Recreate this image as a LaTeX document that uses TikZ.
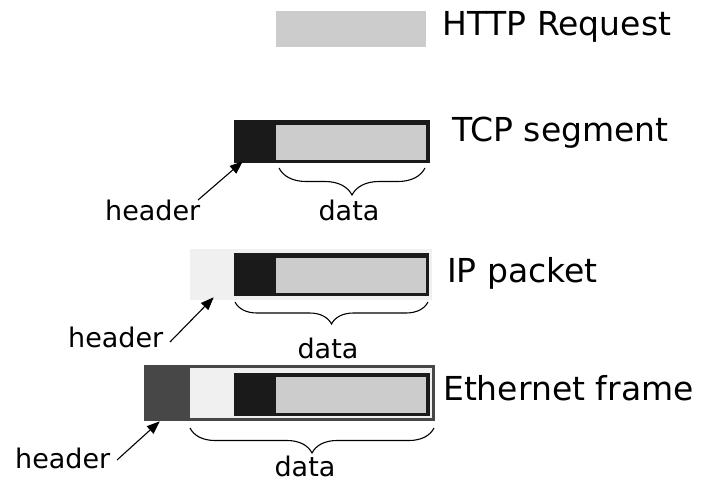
\documentclass[tikz,border=0pt]{standalone}
\usepackage{fontspec}
\setmainfont{DejaVu Sans}
\usetikzlibrary{arrows.meta,decorations.pathreplacing}
\definecolor{datagray}{HTML}{CCCCCC}
\definecolor{hdrblack}{HTML}{1A1A1A}
\definecolor{iplight}{HTML}{F0F0F0}
\definecolor{ethdark}{HTML}{474747}
\tikzset{
  blk/.style={anchor=north west,inner sep=0pt,outer sep=0pt,draw=none},
  biglabel/.style={anchor=base west,inner sep=0pt,font=\fontsize{33}{36}\selectfont},
  smalllabel/.style={anchor=base west,inner sep=0pt,font=\fontsize{27}{30}\selectfont},
  datalabel/.style={anchor=base,inner sep=0pt,font=\fontsize{27}{30}\selectfont},
  bracestyle/.style={decorate,decoration={brace,mirror,amplitude=#1},line width=1.1pt},
  ptr/.style={-{Triangle[length=13pt,width=10pt]},line width=1.1pt,shorten >=-1pt}
}
\begin{document}
\begin{tikzpicture}[x=1pt,y=-1pt]
\useasboundingbox (0,0) rectangle (722,489);
% HTTP
\node[blk,fill=datagray,minimum width=150pt,minimum height=36pt] (http) at (276,11) {};
\node[biglabel] (httpl) at (442,36) {HTTP Request};
% TCP
\node[blk,fill=hdrblack,minimum width=196pt,minimum height=43pt] (tcp) at (234,120) {};
\node[blk,fill=datagray,minimum width=150pt,minimum height=35pt] (tcpd) at (276,125) {};
\node[biglabel] (tcpl) at (452,142) {TCP segment};
\node[smalllabel] (tcph) at (105,220) {header};
\node[datalabel] (tcpdl) at (349,220) {data};
\coordinate (tcpt) at (198,200);
\coordinate (tcptip) at (242,162);
\draw[ptr] (tcpt) -- (tcptip);
\coordinate (tcpb1) at (279,168);
\coordinate (tcpb2) at (425,168);
\draw[bracestyle=27pt] (tcpb1) -- (tcpb2);
% IP
\node[blk,fill=iplight,minimum width=242pt,minimum height=51pt] (ip) at (190,249) {};
\node[blk,fill=hdrblack,minimum width=195pt,minimum height=43pt] (iptcp) at (234,253) {};
\node[blk,fill=datagray,minimum width=150pt,minimum height=35pt] (ipd) at (276,258) {};
\node[biglabel] (ipl) at (447,282) {IP packet};
\node[smalllabel] (iph) at (68,347) {header};
\node[datalabel] (ipdl) at (328,358) {data};
\coordinate (ipt) at (170,342);
\coordinate (iptip) at (213,298);
\draw[ptr] (ipt) -- (iptip);
\coordinate (ipb1) at (235,302);
\coordinate (ipb2) at (428,302);
\draw[bracestyle=22pt] (ipb1) -- (ipb2);
% Ethernet
\node[blk,fill=ethdark,minimum width=291pt,minimum height=56pt] (eth) at (144,365) {};
\node[blk,fill=iplight,minimum width=242pt,minimum height=50pt] (ethip) at (190,368) {};
\node[blk,fill=hdrblack,minimum width=196pt,minimum height=43pt] (ethtcp) at (234,373) {};
\node[blk,fill=datagray,minimum width=150pt,minimum height=36pt] (ethd) at (276,377) {};
\node[biglabel] (ethl) at (443,400) {Ethernet frame};
\node[smalllabel] (ethh) at (15,468) {header};
\node[datalabel] (ethdl) at (305,476) {data};
\coordinate (etht) at (117,460);
\coordinate (ethtip) at (159,422);
\draw[ptr] (etht) -- (ethtip);
\coordinate (ethb1) at (190,428);
\coordinate (ethb2) at (434,428);
\draw[bracestyle=25pt] (ethb1) -- (ethb2);
\end{tikzpicture}
\end{document}
